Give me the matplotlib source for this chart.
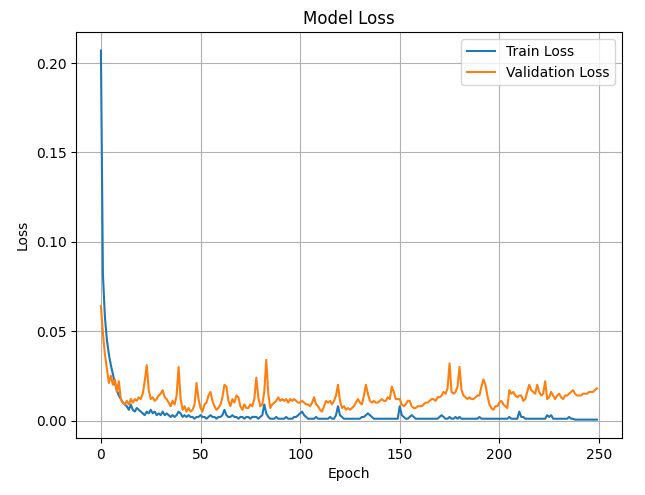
import matplotlib
matplotlib.use("Agg")
import matplotlib.pyplot as plt

# loss per epoch
train_loss = [
    0.207, 0.082, 0.058, 0.045, 0.037, 0.031, 0.026, 0.021, 0.017, 0.014,
    0.012, 0.010, 0.009, 0.008, 0.006, 0.009, 0.006, 0.005, 0.007, 0.006,
    0.005, 0.004, 0.003, 0.005, 0.004, 0.006, 0.004, 0.005, 0.003, 0.004,
    0.003, 0.005, 0.003, 0.004, 0.003, 0.002, 0.003, 0.002, 0.003, 0.005,
    0.004, 0.002, 0.003, 0.002, 0.003, 0.002, 0.002, 0.001, 0.002, 0.002,
    0.003, 0.002, 0.002, 0.001, 0.002, 0.003, 0.002, 0.002, 0.001, 0.002,
    0.002, 0.003, 0.006, 0.003, 0.002, 0.002, 0.003, 0.002, 0.002, 0.001,
    0.002, 0.002, 0.001, 0.002, 0.002, 0.001, 0.002, 0.002, 0.002, 0.001,
    0.002, 0.003, 0.009, 0.004, 0.002, 0.001, 0.001, 0.001, 0.002, 0.001,
    0.001, 0.001, 0.001, 0.002, 0.001, 0.001, 0.001, 0.002, 0.002, 0.003,
    0.004, 0.005, 0.003, 0.002, 0.001, 0.001, 0.001, 0.001, 0.002, 0.001,
    0.001, 0.001, 0.001, 0.001, 0.001, 0.002, 0.001, 0.001, 0.003, 0.008,
    0.003, 0.002, 0.001, 0.001, 0.001, 0.001, 0.001, 0.001, 0.001, 0.001,
    0.001, 0.002, 0.002, 0.003, 0.004, 0.003, 0.002, 0.001, 0.001, 0.001,
    0.001, 0.001, 0.001, 0.001, 0.001, 0.001, 0.001, 0.001, 0.001, 0.001,
    0.008, 0.003, 0.002, 0.001, 0.001, 0.002, 0.003, 0.002, 0.001, 0.001,
    0.001, 0.001, 0.001, 0.001, 0.001, 0.001, 0.001, 0.001, 0.001, 0.001,
    0.002, 0.003, 0.002, 0.001, 0.001, 0.002, 0.001, 0.001, 0.002, 0.001,
    0.002, 0.001, 0.001, 0.001, 0.001, 0.001, 0.001, 0.001, 0.001, 0.001,
    0.002, 0.001, 0.001, 0.001, 0.001, 0.001, 0.001, 0.001, 0.001, 0.001,
    0.001, 0.001, 0.001, 0.001, 0.001, 0.002, 0.001, 0.001, 0.001, 0.001,
    0.005, 0.002, 0.002, 0.001, 0.001, 0.001, 0.001, 0.001, 0.001, 0.001,
    0.001, 0.001, 0.001, 0.001, 0.003, 0.002, 0.003, 0.001, 0.001, 0.001,
    0.001, 0.001, 0.001, 0.001, 0.001, 0.002, 0.001, 0.001, 0.0005, 0.0005,
    0.0005, 0.0005, 0.0005, 0.0005, 0.0005, 0.0005, 0.0005, 0.0005, 0.0005, 0.0005,
]

val_loss = [
    0.064, 0.049, 0.037, 0.029, 0.021, 0.025, 0.020, 0.023, 0.016, 0.022,
    0.012, 0.010, 0.009, 0.011, 0.009, 0.012, 0.010, 0.012, 0.011, 0.013,
    0.012, 0.015, 0.022, 0.031, 0.017, 0.012, 0.013, 0.011, 0.012, 0.014,
    0.015, 0.017, 0.013, 0.012, 0.010, 0.008, 0.011, 0.009, 0.014, 0.030,
    0.012, 0.006, 0.008, 0.005, 0.007, 0.005, 0.006, 0.009, 0.021, 0.012,
    0.007, 0.005, 0.009, 0.010, 0.014, 0.016, 0.011, 0.008, 0.006, 0.007,
    0.009, 0.013, 0.020, 0.019, 0.011, 0.008, 0.012, 0.010, 0.014, 0.013,
    0.008, 0.006, 0.009, 0.007, 0.007, 0.009, 0.008, 0.012, 0.024, 0.013,
    0.008, 0.009, 0.016, 0.034, 0.015, 0.007, 0.009, 0.010, 0.011, 0.013,
    0.011, 0.012, 0.011, 0.012, 0.010, 0.012, 0.011, 0.012, 0.011, 0.010,
    0.010, 0.011, 0.010, 0.009, 0.009, 0.008, 0.010, 0.013, 0.009, 0.008,
    0.006, 0.005, 0.008, 0.011, 0.010, 0.011, 0.009, 0.011, 0.014, 0.020,
    0.011, 0.007, 0.008, 0.006, 0.007, 0.006, 0.007, 0.008, 0.010, 0.012,
    0.010, 0.009, 0.014, 0.020, 0.015, 0.011, 0.010, 0.011, 0.010, 0.010,
    0.011, 0.012, 0.011, 0.011, 0.013, 0.012, 0.019, 0.016, 0.012, 0.012,
    0.012, 0.009, 0.008, 0.009, 0.011, 0.011, 0.008, 0.007, 0.007, 0.008,
    0.008, 0.008, 0.009, 0.010, 0.010, 0.011, 0.012, 0.012, 0.011, 0.013,
    0.013, 0.014, 0.016, 0.015, 0.018, 0.032, 0.016, 0.015, 0.016, 0.019,
    0.030, 0.017, 0.014, 0.013, 0.012, 0.013, 0.012, 0.012, 0.013, 0.014,
    0.014, 0.019, 0.023, 0.020, 0.014, 0.009, 0.007, 0.006, 0.008, 0.008,
    0.010, 0.011, 0.009, 0.008, 0.007, 0.017, 0.015, 0.016, 0.014, 0.013,
    0.014, 0.014, 0.011, 0.012, 0.016, 0.020, 0.017, 0.016, 0.015, 0.020,
    0.016, 0.014, 0.015, 0.022, 0.012, 0.013, 0.016, 0.014, 0.012, 0.014,
    0.015, 0.013, 0.012, 0.014, 0.014, 0.015, 0.016, 0.017, 0.015, 0.014,
    0.014, 0.014, 0.015, 0.015, 0.015, 0.016, 0.016, 0.016, 0.017, 0.018,
]

fig = plt.figure(figsize=(6.45, 4.95), dpi=100)
fig.subplots_adjust(left=0.118, right=0.964, bottom=0.115, top=0.935)

plt.plot(train_loss, label="Train Loss")
plt.plot(val_loss, label="Validation Loss")
plt.title("Model Loss")
plt.xlabel("Epoch")
plt.ylabel("Loss")
plt.legend()
plt.grid(True)

plt.savefig("out.png", dpi=100)
